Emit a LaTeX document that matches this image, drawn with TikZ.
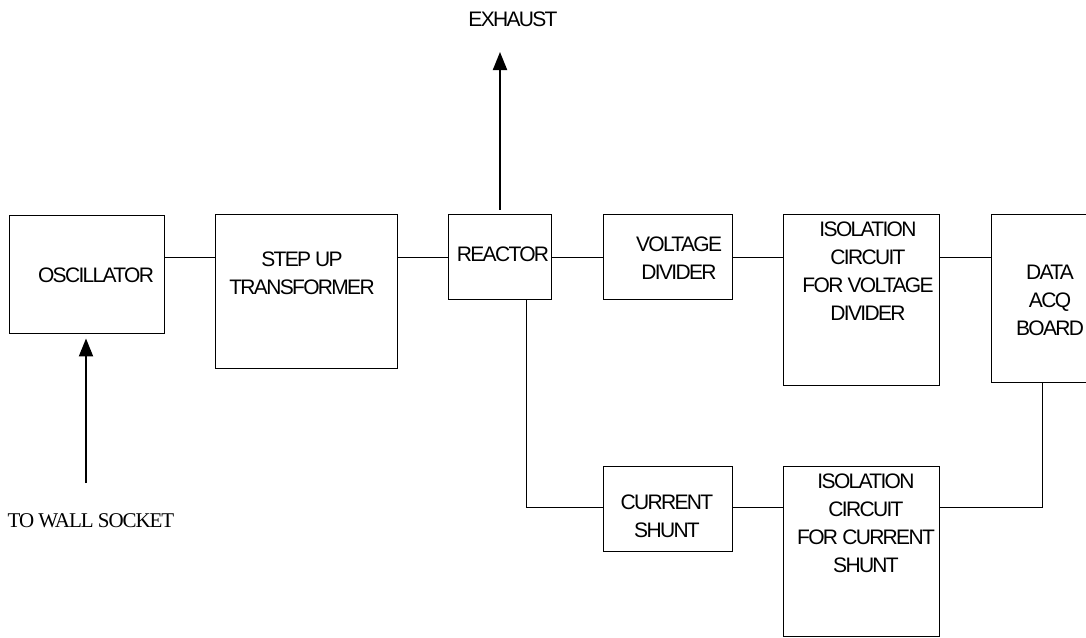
\documentclass[tikz,border=0pt]{standalone}
\usepackage{fontspec}
\setmainfont{Liberation Sans}[LetterSpace=-8]
\newfontfamily\serifface{Liberation Serif}[LetterSpace=-5]
\usetikzlibrary{arrows.meta}
\tikzset{
  blk/.style={draw=black, line width=0.9pt, inner sep=0pt, rectangle},
  lbl/.style={inner sep=0pt, align=center, font=\fontsize{21}{28}\selectfont},
  wire/.style={draw=black, line width=0.9pt},
  flow/.style={draw=black, line width=2pt, -{Triangle[length=18pt,width=14pt]}}
}
\begin{document}
\begin{tikzpicture}[x=1pt,y=-1pt]
\clip (0,0) rectangle (1086,637);
\fill[white] (0,0) rectangle (1086,637);
% boxes
\node[blk, minimum width=155pt, minimum height=118pt] (osc) at (86.5,274) {};
\node[blk, minimum width=182pt, minimum height=154pt] (trans) at (306,291) {};
\node[blk, minimum width=103pt, minimum height=85pt] (reac) at (499.5,256.5) {};
\node[blk, minimum width=129pt, minimum height=85pt] (vdiv) at (667.5,256.5) {};
\node[blk, minimum width=156pt, minimum height=171pt] (isov) at (861,299.5) {};
\node[blk, minimum width=119pt, minimum height=168pt] (daq) at (1050.5,298) {};
\node[blk, minimum width=129pt, minimum height=85pt] (cshunt) at (667.5,508.5) {};
\node[blk, minimum width=156pt, minimum height=170pt] (isoc) at (861,551) {};
% labels
\node[lbl, anchor=base] (toscl) at (96,282) {OSCILLATOR};
\node[lbl, anchor=north] (ttrans) at (302,252) {STEP UP\\TRANSFORMER};
\node[lbl, anchor=base] (treac) at (503,261) {REACTOR};
\node[lbl, anchor=north] (tvdiv) at (679,237) {VOLTAGE\\DIVIDER};
\node[lbl, anchor=north] (tisov) at (868,222) {ISOLATION\\CIRCUIT\\FOR VOLTAGE\\DIVIDER};
\node[lbl, anchor=north] (tdaq) at (1050,265) {DATA\\ACQ\\BOARD};
\node[lbl, anchor=north] (tcsh) at (667,495) {CURRENT\\SHUNT};
\node[lbl, anchor=north] (tisoc) at (866,474) {ISOLATION\\CIRCUIT\\FOR CURRENT\\SHUNT};
\node[lbl, anchor=base] (texh) at (513,26) {EXHAUST};
\node[inner sep=0pt, anchor=base, font=\serifface\fontsize{21}{24}\selectfont] (twall) at (91,527) {TO WALL SOCKET};
% wires
\coordinate (row1) at (0,257);
\coordinate (row2) at (0,507);
\draw[wire] (osc.east |- row1) -- (trans.west |- row1);
\draw[wire] (trans.east |- row1) -- (reac.west |- row1);
\draw[wire] (reac.east |- row1) -- (vdiv.west |- row1);
\draw[wire] (vdiv.east |- row1) -- (isov.west |- row1);
\draw[wire] (isov.east |- row1) -- (daq.west |- row1);
\coordinate (rbot) at (526,299);
\draw[wire] (rbot) |- (cshunt.west |- row2);
\draw[wire] (cshunt.east |- row2) -- (isoc.west |- row2);
\coordinate (dbot) at (1042,382);
\draw[wire] (dbot) |- (isoc.east |- row2);
% arrows
\coordinate (exhtip) at (500,52);
\draw[flow, shorten <=4pt] (reac.north -| exhtip) -- (exhtip);
\coordinate (walltail) at (86,483);
\draw[flow, shorten >=5pt] (walltail) -- (osc.south -| walltail);
\end{tikzpicture}
\end{document}
